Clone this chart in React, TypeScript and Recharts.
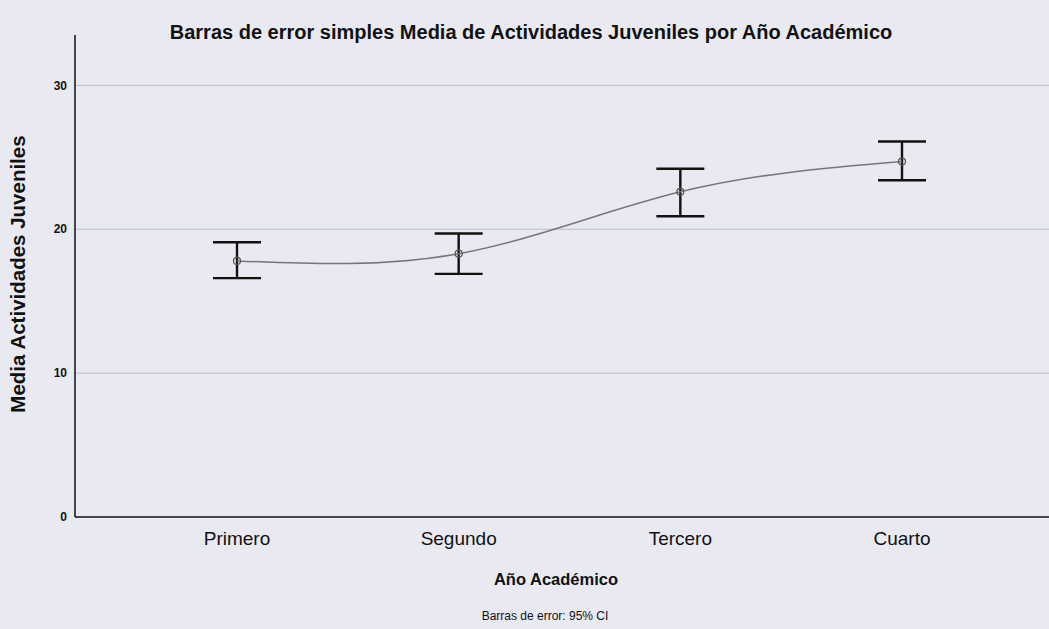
import React from 'react';
import { LineChart, Line, XAxis, YAxis, ReferenceLine, ErrorBar } from 'recharts';

// Año académico (categorías del eje X)
const CURSOS = ['Primero', 'Segundo', 'Tercero', 'Cuarto'];
// Media de Actividades Juveniles y límites del IC 95%
const MEDIAS = [17.8, 18.3, 22.6, 24.7];
const LIM_INF = [16.6, 16.9, 20.9, 23.4];
const LIM_SUP = [19.1, 19.7, 24.2, 26.1];
const Y_TICKS = [0, 10, 20, 30];

const FONT = '"Liberation Sans", Arial, sans-serif';

const data = CURSOS.map((c, i) => ({
  name: c,
  media: MEDIAS[i],
  ic: [MEDIAS[i] - LIM_INF[i], LIM_SUP[i] - MEDIAS[i]],
}));

export default function App() {
  return (
    <div
      style={{
        position: 'absolute',
        top: 0,
        left: 0,
        width: 1049,
        height: 629,
        background: '#e9eaf1',
        fontFamily: FONT,
        overflow: 'hidden',
      }}
    >
      <div
        style={{
          position: 'absolute',
          top: 21,
          left: 0,
          width: 1062,
          textAlign: 'center',
          fontSize: 20,
          fontWeight: 'bold',
          color: '#111',
        }}
      >
        Barras de error simples Media de Actividades Juveniles por Año Académico
      </div>
      <div
        style={{
          position: 'absolute',
          left: 18,
          top: 274,
          transform: 'translate(-50%, -50%) rotate(-90deg)',
          whiteSpace: 'nowrap',
          fontSize: 20.5,
          fontWeight: 'bold',
          color: '#111',
        }}
      >
        Media Actividades Juveniles
      </div>
      <div
        style={{
          position: 'absolute',
          top: 570,
          left: 0,
          width: 1112,
          textAlign: 'center',
          fontSize: 16.5,
          fontWeight: 'bold',
          color: '#111',
        }}
      >
        Año Académico
      </div>
      <div
        style={{
          position: 'absolute',
          top: 609,
          left: 0,
          width: 1090,
          textAlign: 'center',
          fontSize: 12,
          color: '#111',
        }}
      >
        Barras de error: 95% CI
      </div>
      <LineChart
        width={1049}
        height={629}
        data={data}
        margin={{ top: 35, right: 0, left: 0, bottom: 72 }}
        style={{ position: 'absolute', top: 0, left: 0 }}
      >
        {Y_TICKS.filter((t) => t > 0).map((t) => (
          <ReferenceLine key={t} y={t} stroke="#bcbdc4" strokeWidth={1} />
        ))}
        <XAxis
          dataKey="name"
          height={40}
          padding={{ left: 162, right: 147 }}
          axisLine={{ stroke: '#111', strokeWidth: 1.5 }}
          tickLine={false}
          tickSize={0}
          tickMargin={15}
          tick={{ fontSize: 19, fill: '#111', fontFamily: FONT }}
        />
        <YAxis
          width={75}
          domain={[0, 33.5]}
          ticks={Y_TICKS}
          axisLine={{ stroke: '#111', strokeWidth: 1.5 }}
          tickLine={false}
          tickSize={0}
          tickMargin={8}
          tick={{ fontSize: 12, fontWeight: 'bold', fill: '#111', fontFamily: FONT }}
        />
        <Line
          type="natural"
          dataKey="media"
          stroke="#75757a"
          strokeWidth={1.5}
          dot={{ r: 3.5, stroke: '#555', strokeWidth: 1.2, fill: 'none' }}
          isAnimationActive={false}
        >
          <ErrorBar dataKey="ic" width={24} stroke="#111" strokeWidth={2.4} direction="y" />
        </Line>
      </LineChart>
    </div>
  );
}
